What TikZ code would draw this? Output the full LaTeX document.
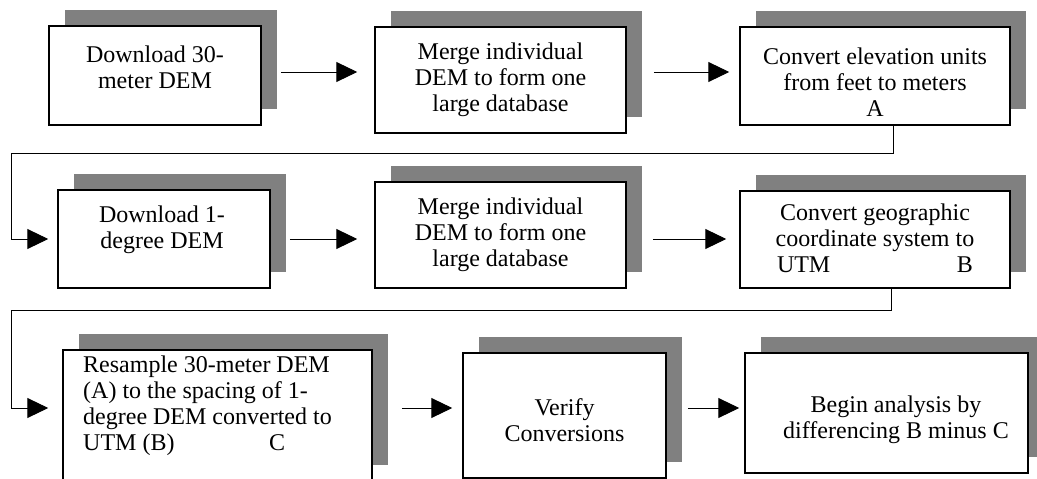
\documentclass[tikz,border=0pt]{standalone}
\usepackage{fontspec}
\setmainfont{Liberation Serif}
\usetikzlibrary{arrows.meta,shadows}
\definecolor{shadowgray}{HTML}{808080}
\tikzset{
  box/.style={draw=black, line width=1.5pt, fill=white, inner sep=0pt, rectangle,
    general shadow={fill=shadowgray, draw=none, shadow xshift=16pt, shadow yshift=16pt}},
  lbl/.style={inner sep=0pt, align=center, font=\fontsize{24}{26}\selectfont},
  lbll/.style={inner sep=0pt, align=left, font=\fontsize{24}{26}\selectfont},
  arr/.style={line width=1pt, -{Triangle[length=21pt,width=20pt]}},
}
\begin{document}
\begin{tikzpicture}[x=1pt,y=-1pt]
\clip (0,0) rectangle (1037,479);
\fill[white] (0,0) rectangle (1037,479);
% boxes
\node[box, minimum width=212pt, minimum height=99pt] (b1) at (155,75.5) {};
\node[box, minimum width=251pt, minimum height=106pt] (b2) at (500.5,80) {};
\node[box, minimum width=270pt, minimum height=98pt] (b3) at (875,76) {};
\node[box, minimum width=212pt, minimum height=98pt] (b4) at (164,239) {};
\node[box, minimum width=251pt, minimum height=106pt] (b5) at (500.5,235) {};
\node[box, minimum width=270pt, minimum height=97pt] (b6) at (875,239.5) {};
\node[box, minimum width=309pt, minimum height=131pt] (b7) at (217.5,415.5) {};
\node[box, minimum width=203pt, minimum height=125pt] (b8) at (564.5,415.5) {};
\node[box, minimum width=283pt, minimum height=120pt] (b9) at (886.5,413) {};
% texts
\node[lbl] (t1) at (155,67.5) {Download 30-\\meter DEM};
\node[lbl] (t2) at (500.5,80) {Merge individual\\DEM to form one\\large database};
\node[lbl] (t3) at (875,82.5) {Convert elevation units\\from feet to meters\\A};
\node[lbl] (t4) at (162,230) {Download 1-\\degree DEM};
\node[lbl] (t5) at (500.5,235) {Merge individual\\DEM to form one\\large database};
\node[lbl] (t6) at (875,238) {Convert geographic\\coordinate system to\\\makebox[196pt]{UTM\hfill B}};
\node[lbll, anchor=west] (t7) at (83,406) {Resample 30-meter DEM\\(A) to the spacing of 1-\\degree DEM converted to\\\makebox[186pt][l]{UTM (B)}C};
\node[lbl] (t8) at (564.5,420) {Verify\\Conversions};
\node[lbl] (t9) at (896,420) {Begin analysis by\\differencing B minus C};
% helper coordinates
\coordinate (r1) at (0,72);
\coordinate (r2) at (0,239);
\coordinate (r3) at (0,408);
\coordinate (k1) at (893,153);
\coordinate (k2) at (11,153);
\coordinate (k3) at (891,310);
\coordinate (k4) at (11,310);
% connectors
\draw[arr, shorten <=19pt, shorten >=17pt] (r1 -| b1.east) -- (r1 -| b2.west);
\draw[arr, shorten <=27pt, shorten >=10pt] (r1 -| b2.east) -- (r1 -| b3.west);
\draw[arr, shorten <=19pt, shorten >=17pt] (r2 -| b4.east) -- (r2 -| b5.west);
\draw[arr, shorten <=26pt, shorten >=13pt] (r2 -| b5.east) -- (r2 -| b6.west);
\draw[arr, shorten <=29pt, shorten >=10pt] (r3 -| b7.east) -- (r3 -| b8.west);
\draw[arr, shorten <=21pt, shorten >=5pt] (r3 -| b8.east) -- (r3 -| b9.west);
\draw[arr, shorten >=9pt] (k1 |- b3.south) -- (k1) -- (k2) |- (r2 -| b4.west);
\draw[arr, shorten >=14pt] (k3 |- b6.south) -- (k3) -- (k4) |- (r3 -| b7.west);
\end{tikzpicture}
\end{document}
